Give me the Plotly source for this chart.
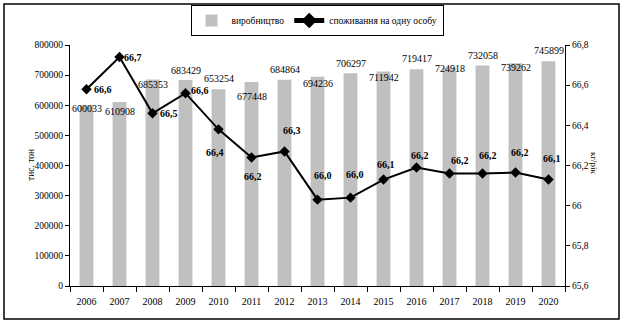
import plotly.graph_objects as go

years = [2006, 2007, 2008, 2009, 2010, 2011, 2012, 2013,
         2014, 2015, 2016, 2017, 2018, 2019, 2020]
production = [600033, 610908, 685353, 683429, 653254, 677448, 684864, 694236,
              706297, 711942, 719417, 724918, 732058, 739262, 745899]
consumption = [66.58, 66.74, 66.46, 66.56, 66.38, 66.24, 66.27, 66.03,
               66.04, 66.13, 66.19, 66.16, 66.16, 66.165, 66.13]

right_ticks = [65.6, 65.8, 66.0, 66.2, 66.4, 66.6, 66.8]
right_ticktext = ["65,6", "65,8", "66", "66,2", "66,4", "66,6", "66,8"]

# label placement (pixels): bar labels offset below bar top; line labels dx, dy (down)
bar_label_dy = [3.5, 10, 4.6, -10, -10.7, 15, -10.5, 7, -10, 6, -11, 1, -10, 4, -11]
line_label_dx = [16.5, 13.5, 16, 14, -4, 1.5, 7.5, 5, 4.5, 2, 3, 10.5, 5, 4, 3.5]
line_label_dy = [0.7, 0, 0, -2.3, 23, 19, -20.7, -24.3, -22.7, -15, -12.5, -13.3, -18.5, -20, -20.7]

FONT = "Liberation Serif"

fig = go.Figure()
fig.add_trace(go.Bar(
    x=years, y=production, name="виробництво",
    marker=dict(color="#c0c0c0", line=dict(width=0)),
    width=0.42,
))
fig.add_trace(go.Scatter(
    x=years, y=consumption, name="споживання на одну особу", yaxis="y2",
    mode="lines+markers",
    line=dict(color="black", width=2),
    marker=dict(symbol="diamond", size=8, color="black"),
))

annotations = []
for yr, v, dy in zip(years, production, bar_label_dy):
    annotations.append(dict(
        x=yr, y=v, xref="x", yref="y", text=str(v), showarrow=False,
        yshift=-dy, xanchor="center", yanchor="middle",
        font=dict(family=FONT, size=10, color="black"),
    ))
for yr, v, dx, dy in zip(years, consumption, line_label_dx, line_label_dy):
    annotations.append(dict(
        x=yr, y=v, xref="x", yref="y2", text="<b>" + f"{v:.1f}".replace(".", ",") + "</b>",
        showarrow=False, xshift=dx, yshift=-dy, xanchor="center", yanchor="middle",
        font=dict(family=FONT, size=10, color="black"),
    ))
annotations.append(dict(
    x=(24 - 70) / 495, y=(286 - 165) / 241, xref="paper", yref="paper",
    text="тис. тон", textangle=-90, showarrow=False,
    font=dict(family=FONT, size=9.5, color="black"),
))
annotations.append(dict(
    x=(601 - 70) / 495, y=(286 - 163) / 241, xref="paper", yref="paper",
    text="кг/рік", textangle=90, showarrow=False,
    font=dict(family=FONT, size=9, color="black"),
))

fig.update_layout(
    width=623, height=323, autosize=False,
    margin=dict(l=70, r=58, t=45, b=37, autoexpand=False),
    paper_bgcolor="white", plot_bgcolor="white",
    font=dict(family=FONT, size=9.5, color="black"),
    bargap=0.58,
    showlegend=True,
    legend=dict(
        orientation="h", x=(317 - 70) / 495, y=(286 - 5) / 241,
        xanchor="center", yanchor="top",
        bordercolor="black", borderwidth=1, bgcolor="white",
        font=dict(family=FONT, size=9.5, color="black"),
        itemsizing="constant", tracegroupgap=0,
    ),
    xaxis=dict(
        type="linear", range=[2005.5, 2020.5], tickmode="array", tickvals=years,
        ticktext=[str(y) for y in years],
        showline=True, linecolor="black", linewidth=1,
        ticks="", showgrid=False, zeroline=False, ticklabelstandoff=6,
        tickfont=dict(family=FONT, size=10),
        minor=dict(ticks="outside", ticklen=5, tickcolor="black",
                   tick0=2005.5, dtick=1, showgrid=False),
    ),
    yaxis=dict(
        range=[0, 800000], dtick=100000, tickformat="d",
        showline=True, linecolor="black", linewidth=1,
        ticks="outside", ticklen=4, tickcolor="black",
        showgrid=False, zeroline=False, tickfont=dict(family=FONT, size=9.5),
    ),
    yaxis2=dict(
        range=[65.6, 66.8], overlaying="y", side="right",
        tickvals=right_ticks, ticktext=right_ticktext,
        showline=True, linecolor="black", linewidth=1,
        ticks="outside", ticklen=4, tickcolor="black",
        showgrid=False, zeroline=False, tickfont=dict(family=FONT, size=9.5),
    ),
    annotations=annotations,
    shapes=[dict(
        type="rect", xref="paper", yref="paper",
        x0=(4 - 70) / 495, x1=(619 - 70) / 495,
        y0=(286 - 319) / 241, y1=(286 - 4) / 241,
        line=dict(color="black", width=1.5), fillcolor="rgba(0,0,0,0)", layer="below",
    )],
)

fig.write_html("out.html")
